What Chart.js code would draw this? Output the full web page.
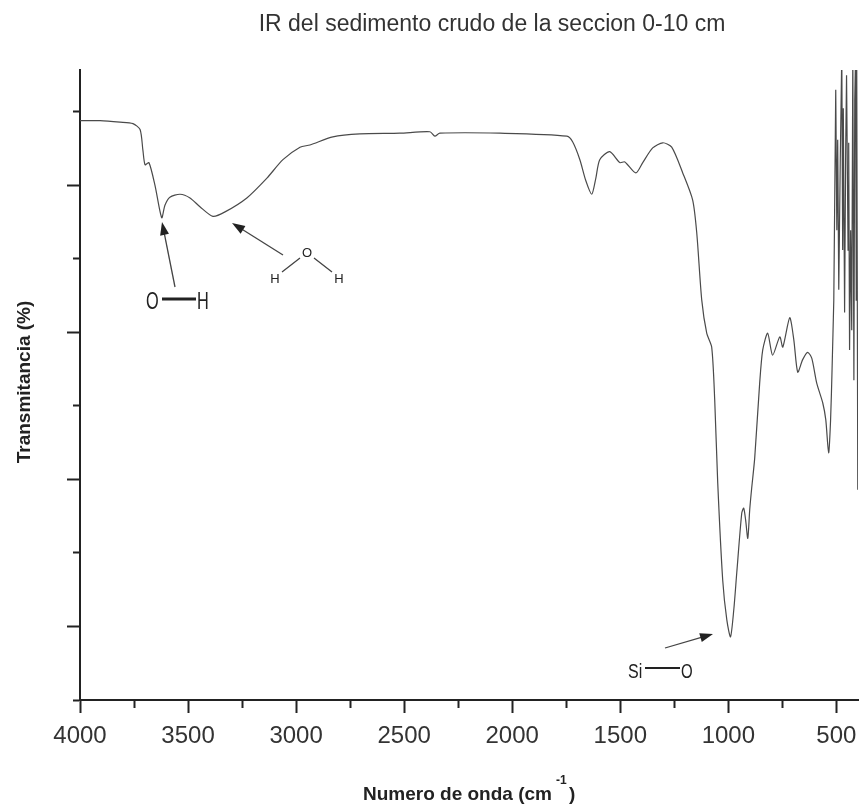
<!DOCTYPE html>
<html>
<head>
<meta charset="utf-8">
<script src="https://cdn.jsdelivr.net/npm/chart.js@4/dist/chart.umd.min.js"></script>
<style>
    html, body { margin: 0; padding: 0; background: #fff; }
    #wrap { width: 863px; height: 807px; }
</style>
</head>
<body>
<div id="wrap"><canvas id="ir"></canvas></div>
<script>
// IR spectrum, raw sediment 0-10 cm (wavenumber in cm-1, transmittance in arbitrary %)
const wavenumber = [
    4000, 3907, 3815, 3755, 3722, 3709, 3699, 3681, 3653, 3622,
    3607, 3584, 3537, 3491, 3445, 3385, 3329, 3228, 3135, 3061,
    2982, 2936, 2830, 2705, 2520, 2381, 2358, 2335, 2057, 1747,
    1720, 1687, 1660, 1632, 1613, 1595, 1549, 1502, 1479, 1428,
    1396, 1350, 1303, 1262, 1211, 1165, 1146, 1123, 1100, 1077,
    1063, 1049, 1026, 1007, 990, 975, 961, 938, 929, 920,
    910, 901, 892, 878, 855, 841, 818, 795, 762, 748,
    716, 697, 679, 656, 633, 614, 591, 563, 549, 536,
    527, 520, 512,
    // noisy tail below ~510 cm-1
    503, 498, 494, 489, 482, 475, 471, 468, 462, 457,
    453, 446, 443, 439, 434, 429, 424, 419, 415, 411,
    408, 406, 401
];
const transmitance = [
    78.8, 78.8, 78.6, 78.4, 77.6, 74.8, 72.8, 73.1, 70.0, 65.6,
    67.3, 68.4, 68.8, 68.3, 67.1, 65.8, 66.4, 68.3, 71.0, 73.5,
    75.2, 75.5, 76.6, 77.0, 77.1, 77.3, 76.7, 77.1, 77.1, 76.7,
    75.9, 73.5, 70.7, 68.8, 71.0, 73.5, 74.6, 73.1, 73.2, 71.7,
    73.1, 75.1, 75.8, 75.2, 71.7, 68.0, 63.5, 54.4, 49.9, 48.0,
    40.8, 29.5, 16.3, 10.9, 8.6, 12.2, 17.3, 25.4, 26.1, 24.5,
    22.0, 25.9, 28.8, 32.9, 43.1, 47.6, 49.9, 46.9, 49.4, 48.0,
    52.0, 49.0, 44.6, 46.3, 47.3, 46.5, 43.1, 40.4, 38.1, 33.6,
    38.0, 45.0, 54.4,
    83.0, 63.9, 76.2, 55.8, 73.5, 88.0, 61.2, 80.5, 52.7, 74.8,
    85.0, 61.2, 75.8, 47.6, 63.9, 50.3, 88.0, 43.5, 81.6, 88.0,
    54.4, 88.0, 28.6
];
// below this wavenumber the trace is detector noise, drawn without smoothing
const NOISE_FROM = 512;

const x_major = [4000, 3500, 3000, 2500, 2000, 1500, 1000, 500];
const x_minor = [3750, 3250, 2750, 2250, 1750, 1250, 750];
const x_labels = ["4000", "3500", "3000", "2500", "2000", "1500", "1000", "500"];
const y_major = [10, 30, 50, 70];
const y_minor = [0, 20, 40, 60, 80];

const TITLE = "IR del sedimento crudo de la seccion 0-10 cm";
const X_TITLE = "Numero de onda (cm";
const Y_TITLE = "Transmitancia (%)";
const INK = "#222";
const FONT = "'Liberation Sans', Arial, sans-serif";

function as_ticks(values) {
    return values.slice().sort((a, b) => a - b).map(v => ({value: v}));
}

function arrow(ctx, x0, y0, x1, y1, head = 13, wide = 4.5) {
    const a = Math.atan2(y1 - y0, x1 - x0);
    ctx.beginPath();
    ctx.moveTo(x0, y0);
    ctx.lineTo(x1 - Math.cos(a) * head * 0.8, y1 - Math.sin(a) * head * 0.8);
    ctx.stroke();
    ctx.beginPath();
    ctx.moveTo(x1, y1);
    ctx.lineTo(x1 - Math.cos(a) * head - Math.sin(a) * wide, y1 - Math.sin(a) * head + Math.cos(a) * wide);
    ctx.lineTo(x1 - Math.cos(a) * head + Math.sin(a) * wide, y1 - Math.sin(a) * head - Math.cos(a) * wide);
    ctx.closePath();
    ctx.fill();
}

// narrow text, squeezed horizontally
function narrow(ctx, text, x, y, sx) {
    ctx.save();
    ctx.translate(x, y);
    ctx.scale(sx, 1);
    ctx.fillText(text, 0, 0);
    ctx.restore();
}

// titles and the band labels (O-H, water, Si-O)
const labels_plugin = {
    id: "labels",
    afterDraw(chart) {
        const ctx = chart.ctx;
        ctx.save();
        ctx.fillStyle = "#333";
        ctx.textBaseline = "alphabetic";
        ctx.textAlign = "center";
        ctx.font = "23px " + FONT;
        ctx.fillText(TITLE, 492, 31);

        ctx.fillStyle = INK;
        ctx.font = "bold 19px " + FONT;
        ctx.textAlign = "left";
        ctx.fillText(X_TITLE, 363, 800);
        const w = ctx.measureText(X_TITLE).width;
        ctx.fillText(")", 363 + w + 17, 800);
        ctx.font = "bold 12px " + FONT;
        ctx.fillText("-1", 363 + w + 4, 784);

        ctx.save();
        ctx.translate(30, 382);
        ctx.rotate(-Math.PI / 2);
        ctx.textAlign = "center";
        ctx.font = "bold 19px " + FONT;
        ctx.fillText(Y_TITLE, 0, 0);
        ctx.restore();

        // O-H
        ctx.fillStyle = INK;
        ctx.strokeStyle = "#444";
        ctx.lineWidth = 1.3;
        arrow(ctx, 175, 287, 162, 222);
        ctx.textAlign = "left";
        ctx.font = "24px " + FONT;
        narrow(ctx, "O", 146, 309, 0.68);
        narrow(ctx, "H", 197, 309, 0.68);
        ctx.strokeStyle = INK;
        ctx.lineWidth = 3;
        ctx.beginPath();
        ctx.moveTo(162, 299);
        ctx.lineTo(196, 299);
        ctx.stroke();

        // water
        ctx.strokeStyle = "#444";
        ctx.lineWidth = 1.3;
        arrow(ctx, 283, 255, 232, 223);
        ctx.font = "13px " + FONT;
        ctx.textAlign = "center";
        ctx.fillText("O", 307, 257);
        ctx.fillText("H", 275, 283);
        ctx.fillText("H", 339, 283);
        ctx.beginPath();
        ctx.moveTo(282, 272);
        ctx.lineTo(300, 258);
        ctx.moveTo(314, 258);
        ctx.lineTo(332, 272);
        ctx.stroke();

        // Si-O
        arrow(ctx, 665, 648, 713, 634);
        ctx.textAlign = "left";
        ctx.font = "20px " + FONT;
        narrow(ctx, "Si", 628, 678, 0.8);
        narrow(ctx, "O", 681, 678, 0.75);
        ctx.strokeStyle = INK;
        ctx.lineWidth = 2;
        ctx.beginPath();
        ctx.moveTo(645, 668);
        ctx.lineTo(680, 668);
        ctx.stroke();
        ctx.restore();
    }
};

function build_data() {
    const pts = wavenumber.map((x, i) => ({x, y: transmitance[i]}));
    const style = {showLine: true, borderColor: "#4a4a4a", borderWidth: 1.2, pointRadius: 0};
    return {
        datasets: [
            {...style, data: pts.filter(p => p.x >= NOISE_FROM), tension: 0.25},
            {...style, data: pts.filter(p => p.x <= NOISE_FROM), tension: 0}
        ]
    };
}

window.addEventListener("load", () => {
    const ctx = document.querySelector("#ir");
    window.chart = new Chart(ctx, {
        type: "scatter",
        data: build_data(),
        plugins: [labels_plugin],
        options: {
            responsive: true,
            maintainAspectRatio: false,
            animation: false,
            events: [],
            layout: {padding: {left: 67, right: 5, top: 70, bottom: 0}},
            plugins: {legend: {display: false}, tooltip: {enabled: false}},
            scales: {
                x: {
                    type: "linear",
                    reverse: true,
                    min: 400,
                    max: 4000,
                    afterBuildTicks: s => { s.ticks = as_ticks(x_major.concat(x_minor)); },
                    afterFit: s => { s.height = 107; },
                    border: {color: INK, width: 2},
                    grid: {
                        drawOnChartArea: false,
                        tickLength: 13,
                        tickWidth: 2,
                        tickColor: INK,
                        tickBorderDash: c => x_major.includes(c.tick.value) ? [] : [7, 100]
                    },
                    ticks: {
                        autoSkip: false,
                        maxRotation: 0,
                        padding: 9,
                        color: "#333",
                        font: {family: FONT, size: 24},
                        callback: v => {
                            const i = x_major.indexOf(v);
                            return i < 0 ? "" : x_labels[i];
                        }
                    }
                },
                y: {
                    min: 0,
                    max: 85.7,
                    afterBuildTicks: s => { s.ticks = as_ticks(y_major.concat(y_minor)); },
                    afterFit: s => { s.width = 13; },
                    border: {color: INK, width: 2},
                    grid: {
                        drawOnChartArea: false,
                        tickLength: 13,
                        tickWidth: 2,
                        tickColor: INK,
                        tickBorderDash: c => y_major.includes(c.tick.value) ? [] : [0, 6, 8, 100]
                    },
                    ticks: {display: false}
                }
            }
        }
    });
});
</script>
</body>
</html>
